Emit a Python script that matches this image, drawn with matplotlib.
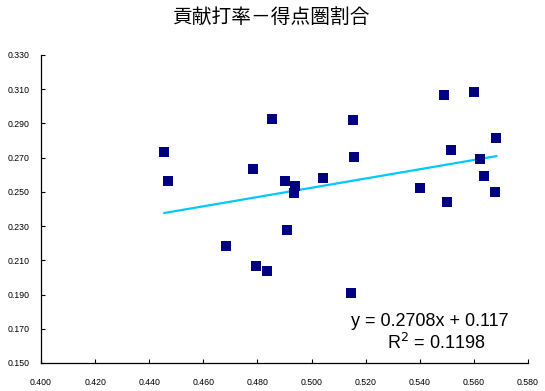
import matplotlib
matplotlib.use("Agg")
import matplotlib.pyplot as plt
import numpy as np

title = "貢献打率－得点圏割合"
x_vals = [0.4456, 0.4471, 0.4685, 0.4785, 0.4796, 0.4837, 0.4855, 0.4902, 0.4911,
          0.4936, 0.4939, 0.5044, 0.5147, 0.5155, 0.5158, 0.5402, 0.5490, 0.5502,
          0.5517, 0.5601, 0.5624, 0.5639, 0.5683, 0.5679]
y_vals = [0.2735, 0.2562, 0.2182, 0.2632, 0.2065, 0.2036, 0.2924, 0.2562, 0.2276,
          0.2495, 0.2534, 0.2579, 0.1907, 0.2918, 0.2702, 0.2521, 0.3065, 0.2439,
          0.2743, 0.3082, 0.2691, 0.2591, 0.2813, 0.2498]
slope = 0.2708
intercept = 0.117
eq_text = "y = 0.2708x + 0.117"
r2_text = "R$^2$ = 0.1198"
x_ticks = [0.400, 0.420, 0.440, 0.460, 0.480, 0.500, 0.520, 0.540, 0.560, 0.580]
y_ticks = [0.150, 0.170, 0.190, 0.210, 0.230, 0.250, 0.270, 0.290, 0.310, 0.330]

fig = plt.figure(figsize=(5.45, 3.91), dpi=100)
ax = fig.add_axes([41/545, 1-363/391, 487/545, 308/391])

ax.scatter(x_vals, y_vals, marker="s", s=62, color="#000080", linewidths=0, zorder=3)
xl = np.array([min(x_vals), max(x_vals)])
ax.plot(xl, slope*xl + intercept, color="#00C8FF", lw=1.6, zorder=2)

ax.set_xlim(0.400, 0.580)
ax.set_ylim(0.150, 0.330)
ax.set_xticks(x_ticks)
ax.set_yticks(y_ticks)
ax.set_xticklabels([f"{v:.3f}" for v in x_ticks], fontsize=6.3, family="Liberation Sans")
ax.set_yticklabels([f"{v:.3f}" for v in y_ticks], fontsize=6.3, family="Liberation Sans")
ax.tick_params(direction="in", length=3, width=0.8)
ax.tick_params(axis="x", pad=10.5)
ax.tick_params(axis="y", pad=8.5)
for s in ["top", "right"]:
    ax.spines[s].set_visible(False)
for s in ["left", "bottom"]:
    ax.spines[s].set_linewidth(0.9)

fig.text(272/545, 1-17/391, title, ha="center", va="center", fontsize=14.2,
         family=["Noto Sans CJK JP", "DejaVu Sans"])
fig.text(430/545, 1-321/391, eq_text, ha="center", va="center", fontsize=13,
         family="Liberation Sans")
fig.text(436/545, 1-343/391, r2_text, ha="center", va="center", fontsize=13,
         family="Liberation Sans")

fig.savefig("out.png", dpi=100)
